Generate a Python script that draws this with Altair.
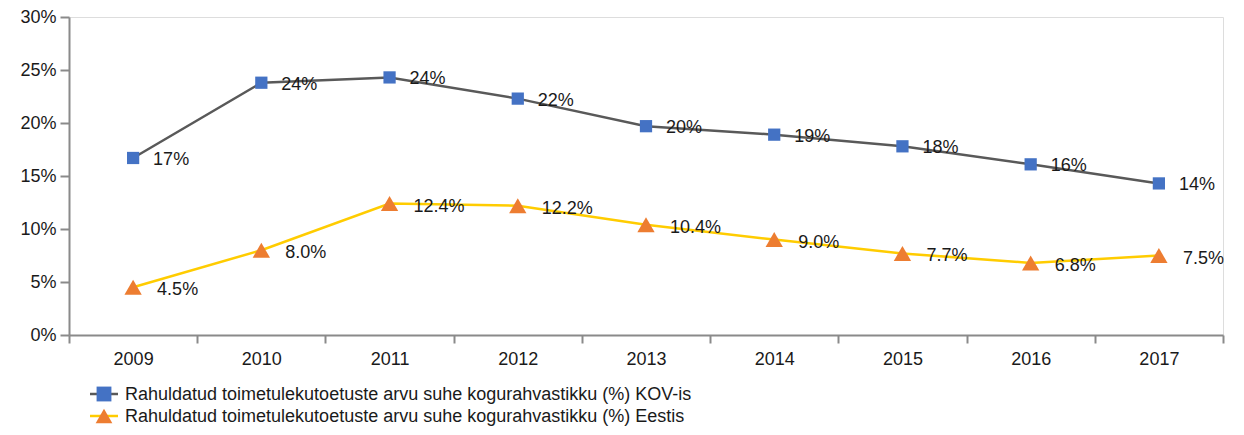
import altair as alt
import pandas as pd

years = ["2009", "2010", "2011", "2012", "2013", "2014", "2015", "2016", "2017"]
kov_values = [16.7, 23.8, 24.3, 22.3, 19.7, 18.9, 17.8, 16.1, 14.3]
eesti_values = [4.5, 8.0, 12.4, 12.2, 10.4, 9.0, 7.7, 6.8, 7.5]
series_names = [
    "Rahuldatud toimetulekutoetuste arvu suhe kogurahvastikku (%) KOV-is",
    "Rahuldatud toimetulekutoetuste arvu suhe kogurahvastikku (%) Eestis",
]
y_ticks = [0, 5, 10, 15, 20, 25, 30]

FONT = "Liberation Sans"
FS = 18
TXT = "#1a1a1a"

kov = pd.DataFrame({"year": years, "value": kov_values,
                    "label": [f"{v:.0f}%" for v in kov_values]})
eesti = pd.DataFrame({"year": years, "value": eesti_values,
                      "label": [f"{v:.1f}%" for v in eesti_values]})

x_enc = alt.X("year:O", bandPosition=0.5,
              scale=alt.Scale(type="band", paddingInner=0, paddingOuter=0, round=False),
              axis=alt.Axis(title=None, labelAngle=0, tickBand="extent",
                            domainColor="#8a8a8a", domainWidth=2,
                            tickColor="#8a8a8a", tickWidth=2, tickSize=8,
                            labelPadding=7, labelFont=FONT, labelFontSize=FS,
                            labelColor=TXT, grid=False))
y_enc = alt.Y("value:Q", scale=alt.Scale(domain=[0, 30], nice=False, zero=True),
              axis=alt.Axis(title=None, values=y_ticks, labelExpr="datum.value + '%'",
                            domainColor="#8a8a8a", domainWidth=2,
                            tickColor="#8a8a8a", tickWidth=2, tickSize=9,
                            labelPadding=4, labelFont=FONT, labelFontSize=FS,
                            labelColor=TXT, grid=False))

kov_line = alt.Chart(kov).mark_line(color="#595959", strokeWidth=2.5).encode(x=x_enc, y=y_enc)
kov_pts = alt.Chart(kov).mark_point(shape="square", filled=True, size=150, color="#4472C4", opacity=1).encode(x=x_enc, y=y_enc)
kov_txt = alt.Chart(kov).mark_text(align="left", baseline="middle", dx=20, dy=2,
                                   font=FONT, fontSize=FS, color=TXT).encode(x=x_enc, y=y_enc, text="label:N")

ee_line = alt.Chart(eesti).mark_line(color="#FFCC00", strokeWidth=2.5).encode(x=x_enc, y=y_enc)
ee_pts = alt.Chart(eesti).mark_point(shape="triangle-up", filled=True, size=300, color="#ED7D31", opacity=1).encode(x=x_enc, y=y_enc)
ee_txt = alt.Chart(eesti).mark_text(align="left", baseline="middle", dx=24, dy=3,
                                    font=FONT, fontSize=FS, color=TXT).encode(x=x_enc, y=y_enc, text="label:N")

def legend_row(i, line_color, shape, fill, size, ypix):
    base = alt.Chart(pd.DataFrame({"name": [series_names[i]]}))
    r = base.mark_rule(color=line_color, strokeWidth=2.5).encode(
        x=alt.value(21), x2=alt.value(49), y=alt.value(ypix))
    p = base.mark_point(shape=shape, filled=True, size=size, color=fill, opacity=1).encode(
        x=alt.value(35), y=alt.value(ypix))
    t = base.mark_text(align="left", baseline="middle", font=FONT, fontSize=FS,
                       color=TXT).encode(x=alt.value(56), y=alt.value(ypix + 1), text="name:N")
    return [r, p, t]

legend_layers = legend_row(0, "#595959", "square", "#4472C4", 220, 377) + \
                legend_row(1, "#FFCC00", "triangle-up", "#ED7D31", 280, 399)

chart = alt.layer(kov_line, ee_line, kov_pts, ee_pts, kov_txt, ee_txt, *legend_layers).properties(
    width=1154, height=318,
    autosize=alt.AutoSizeParams(type="none"),
    padding={"left": 61, "top": 9, "right": 12, "bottom": 92},
).configure_view(stroke=None).configure(background="white")

chart.save("out.html", embed_options={"renderer": "svg", "actions": False})
